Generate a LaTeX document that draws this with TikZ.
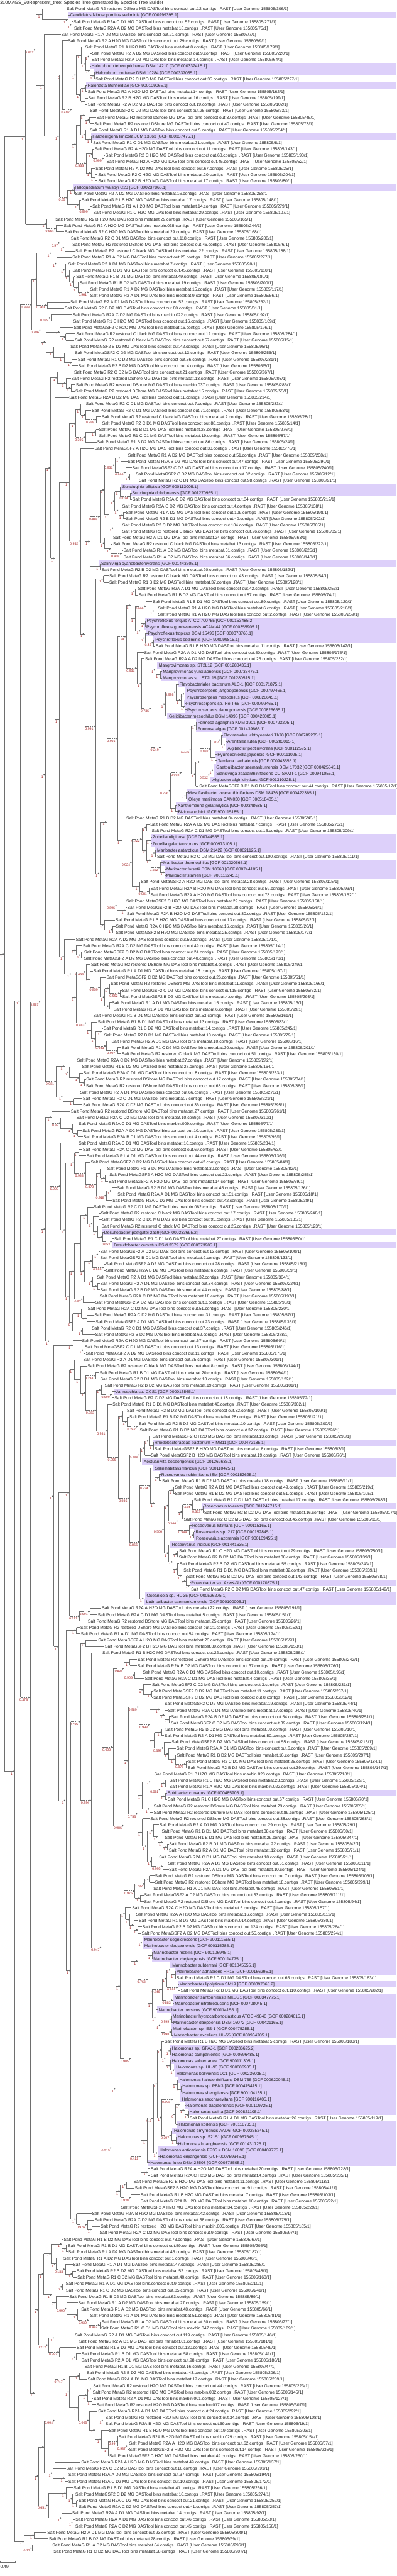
\documentclass[tikz,border=0pt]{standalone}
\usepackage{fontspec}
\setmainfont{Liberation Sans}

\definecolor{branchgray}{HTML}{6E6E6E}
\definecolor{dotgray}{HTML}{5A5A5A}
\definecolor{supportred}{HTML}{A01818}
\definecolor{reflilac}{HTML}{DDD0FA}
\definecolor{labelblack}{HTML}{1E1E1E}

\tikzset{
  branch/.style={draw=branchgray,line width=1.3pt},
  weakpart/.style={draw=branchgray,line width=1.3pt,dash pattern=on 2pt off 3.5pt},
  splitdot/.style={circle,fill=dotgray,inner sep=0pt,minimum size=5pt},
  nosplitdot/.style={inner sep=0pt,minimum size=0pt},
  support/.style={anchor=north east,inner sep=0pt,text=supportred,font=\fontsize{10}{10}\selectfont},
  tiplabel/.style={anchor=west,inner sep=0pt,text height=10.5pt,text depth=0pt,text=labelblack,font=\fontsize{12.85}{13}\selectfont},
  refband/.style={fill=reflilac}
}

\newcount\rowno
\newcount\cladeno
\def\firstrow{26.6}
\def\rowgap{19.26}
\def\colname{col0}
\def\cx{0}
\def\supone{1}
\def\supzero{0}
\let\topkid\relax

\newcommand\kiddone[2]{\ifx\topkid\relax\edef\topkid{#1}\edef\topy{#2}\fi\edef\botkid{#1}\edef\boty{#2}}

\newcommand\placetip[2]{%
  \global\advance\rowno by 1
  \pgfmathsetmacro\ty{\firstrow+\rowgap*(\the\rowno-1)}
  \node[tiplabel] (t\the\rowno) at (#1,\ty) {#2};
  \draw[branch,shorten >=1.5pt] (\colname |- t\the\rowno.west) -- (t\the\rowno.west);
  \kiddone{t\the\rowno.west}{\ty}}
\newcommand\mtip[4]{\placetip{#1}{Salt Pond MetaG #2 MG DASTool bins #3.contigs\ \ .RAST [User Genome 155805/#4/1]}}
\newcommand\ftip[4]{\placetip{#1}{Salt Pond MetaGSF2 #2 MG DASTool bins #3.contigs\ \ .RAST [User Genome 155805/#4/1]}}
\newcommand\rtip[2]{%
  \pgfmathsetmacro\by{\firstrow+\rowgap*\the\rowno}
  \fill[refband] (#1-7,\by-9.63) rectangle (1568,\by+9.63);
  \placetip{#1}{#2}}

\newcommand\cl[2]{\begingroup
  \global\advance\cladeno by 1
  \edef\thisid{\the\cladeno}
  \let\upx\cx
  \let\upcol\colname
  \def\cx{#1}
  \def\supp{#2}
  \edef\colname{col\thisid}
  \let\topkid\relax
  \coordinate (\colname) at (#1,0);}

\newcommand\ce{%
  \pgfmathsetmacro\midy{(\topy+\boty)/2}
  \pgfmathsetmacro\dotx{\cx-5.5}
  \coordinate (c\thisid) at (\cx,\midy);
  \draw[branch] (c\thisid |- \topkid) -- (c\thisid |- \botkid);
  \ifx\supp\supzero
    \node[nosplitdot] (d\thisid) at (\dotx,\midy) {};
  \else
    \node[splitdot] (d\thisid) at (\dotx,\midy) {};
  \fi
  \draw[branch] (d\thisid.center) -- (c\thisid);
  \ifx\supp\supone
    \draw[branch] (\upcol |- d\thisid.center) -- (d\thisid.center);
  \else\ifx\supp\supzero
    \draw[branch] (\upcol |- d\thisid.center) -- (d\thisid.center);
  \else
    \pgfmathsetmacro\cutx{max(\upx,\dotx-23)}
    \coordinate (h\thisid) at (\cutx,\midy);
    \draw[branch] (\upcol |- h\thisid) -- (h\thisid);
    \draw[weakpart] (h\thisid) -- (d\thisid.center);
  \fi\fi
  \node[support] (s\thisid) at ([xshift=-2.5pt,yshift=-3.9pt]d\thisid.center) {\supp};
  \xdef\retkid{d\thisid.center}\xdef\rety{\midy}\endgroup
  \kiddone{\retkid}{\rety}}

\begin{document}
\begin{tikzpicture}[x=0.76531pt,y=-1pt]
\useasboundingbox (0,0) rectangle (1568,7786);
\coordinate (col0) at (0,0);
\node[anchor=west,inner sep=0pt,text=labelblack,font=\fontsize{14}{14}\selectfont] (treetitle) at (0,8) {310MAGS\_90Represent\_tree: Species Tree generated by Species Tree Builder};

\cl{17}{1}
 \cl{101}{1}
  \cl{142}{0.817}
   \cl{167}{1}
    \mtip{264}{R2 restored DShore}{concoct out.12}{306}
    \cl{268}{1}
     \rtip{277}{Candidatus Nitrosopumilus sediminis [GCF 000299395.1]}
     \cl{285}{1}\mtip{291}{R2A C D1}{concoct out.52}{271}\mtip{293}{R2A A D2}{metabat.16}{75}\ce
    \ce
   \ce
   \cl{175}{1}
    \mtip{242}{R1 A D2}{concoct out.21}{7}
    \cl{235}{1}
     \cl{246}{0}
      \mtip{269}{R2 A H2O}{concoct out.29}{9}
      \cl{284}{0.492}
       \cl{302}{1}
        \cl{322}{1}
         \mtip{337}{R1 A H2O}{metabat.8}{179}
         \cl{338}{1}
          \cl{355}{1}\mtip{364}{R2 A D2}{concoct out.9}{220}\mtip{362}{R2 A D2}{metabat.14}{64}\ce
          \cl{356}{1}
           \rtip{362}{Halorubrum tebenquichense DSM 14210 [GCF 000337415.1]}
           \cl{373}{1}\rtip{378}{Halorubrum coriense DSM 10284 [GCF 000337035.1]}\mtip{378}{R2 C H2O}{concoct out.35}{227}\ce
          \ce
         \ce
        \ce
        \cl{320}{1}
         \cl{338}{1}\rtip{347}{Halohasta litchfieldiae [GCF 900109065.1]}\mtip{347}{R2 A H2O}{metabat.14}{162}\ce
         \cl{337}{1}\mtip{349}{R2 B H2O}{metabat.16}{199}\mtip{348}{R2 A D2}{concoct out.19}{102}\ce
        \ce
       \ce
       \cl{302}{1}
        \cl{318}{1}
         \cl{336}{1}
          \ftip{356}{C D2}{concoct out.25}{23}
          \cl{354}{1}\mtip{381}{R2 restored DShore}{concoct out.37}{45}\mtip{373}{R2 restored DShore}{concoct out.40}{73}\ce
         \ce
         \cl{338}{1}
          \mtip{356}{R1 A D1}{\unskip.concoct out.5}{254}
          \cl{361}{1}\rtip{366}{Haloterrigena limicola JCM 13563 [GCF 000337475.1]}\mtip{368}{R1 C D1}{metabat.31}{8}\ce
         \ce
        \ce
        \cl{340}{0.565}
         \cl{367}{1}
          \mtip{374}{R2 A H2O}{concoct out.11}{143}
          \cl{411}{0.999}\mtip{417}{R2 C H2O}{concoct out.60}{190}\mtip{421}{R2 A H2O}{concoct out.45}{52}\ce
         \ce
         \cl{361}{1}
          \mtip{378}{R2 A D2}{concoct out.67}{25}
          \cl{377}{1}\mtip{388}{R2 C H2O}{metabat.20}{204}\mtip{388}{R2 B H2O}{metabat.17}{80}\ce
         \ce
        \ce
       \ce
      \ce
     \ce
     \cl{267}{0.65}
      \cl{293}{1}\rtip{296}{Haloquadratum walsbyi C23 [GCF 000237865.1]}\mtip{297}{R2 A D2}{metabat.16}{258}\ce
      \cl{313}{1}
       \mtip{323}{R1 B H2O}{metabat.17}{148}
       \cl{356}{0.999}\mtip{366}{R1 A H2O}{metabat.14}{279}\mtip{369}{R1 C H2O}{metabat.29}{107}\ce
      \ce
     \ce
    \ce
   \ce
  \ce
  \cl{184}{1}
   \mtip{219}{R2 B H2O}{metabat.29}{165}
   \cl{222}{0.554}\mtip{252}{R2 A H2O}{maxbin.035}{244}\mtip{256}{R2 C H2O}{metabat.29}{168}\ce
  \ce
 \ce
 \cl{58}{1}
  \cl{81}{1}
   \cl{125}{0.999}
    \cl{145}{1}
     \cl{204}{1}
      \cl{238}{0.97}
       \mtip{281}{R2 C D1}{concoct out.118}{208}
       \cl{256}{1}\mtip{286}{R2 restored DShore}{concoct out.46}{6}\mtip{298}{R2 restored C black}{metabat.22}{188}\ce
      \ce
      \cl{225}{1}
       \mtip{286}{R1 A D2}{concoct out.25}{277}
       \cl{258}{1}
        \mtip{270}{R2 A D1}{metabat.7}{90}
        \cl{275}{1}
         \mtip{287}{R1 C D1}{concoct out.45}{110}
         \cl{292}{1}
          \mtip{301}{R1 B D1}{metabat.49}{180}
          \cl{308}{1}
           \mtip{314}{R1 B D2}{metabat.19}{200}
           \cl{352}{0.961}\mtip{357}{R1 A D2}{metabat.15}{117}\mtip{357}{R2 A D1}{metabat.9}{56}\ce
          \ce
         \ce
        \ce
       \ce
      \ce
     \ce
     \cl{187}{0.963}\mtip{278}{R2 A D1}{concoct out.52}{262}\mtip{256}{R2 B D2}{concoct out.80}{31}\ce
    \ce
    \cl{163}{0.786}
     \cl{201}{0.189}\mtip{287}{R2A C D2}{maxbin.022}{192}\mtip{290}{R1 C H2O}{concoct out.16}{169}\ce
     \cl{181}{1}
      \cl{237}{1}
       \ftip{292}{C H2O}{metabat.16}{196}
       \cl{260}{1}\mtip{301}{R2 restored C black}{concoct out.12}{284}\mtip{296}{R2 restored C black}{concoct out.57}{15}\ce
      \ce
      \cl{213}{1}
       \ftip{279}{B D2}{concoct out.42}{95}
       \cl{253}{1}
        \ftip{296}{C D2}{concoct out.13}{256}
        \cl{285}{1}\mtip{308}{R1 C D2}{concoct out.36}{281}\mtip{310}{R2 B D2}{concoct out.4}{5}\ce
       \ce
      \ce
     \ce
    \ce
   \ce
   \cl{119}{0.378}
    \cl{162}{0.987}
     \cl{180}{1}
      \cl{200}{1}
       \cl{227}{1}
        \mtip{293}{R2 C D2}{concoct out.21}{267}
        \cl{261}{1}
         \mtip{282}{R2 restored DShore}{metabat.13}{203}
         \cl{281}{1}\mtip{300}{R2 restored DShore}{maxbin.037}{286}\mtip{298}{R2 restored DShore}{metabat.15}{55}\ce
        \ce
       \ce
       \cl{218}{1}
        \mtip{274}{R2A B D2}{concoct out.11}{214}
        \cl{235}{1}
         \cl{275}{1}
          \cl{300}{1}
           \cl{320}{1}
            \mtip{340}{R2 C D1}{concoct out.7}{283}
            \cl{339}{1}
             \mtip{363}{R2 C D1}{concoct out.71}{53}
             \cl{382}{0.988}\mtip{403}{R2 restored C black}{metabat.2}{28}\mtip{404}{R2 C D1}{concoct out.88}{14}\ce
            \ce
           \ce
           \cl{338}{0.395}
            \cl{379}{1}\mtip{392}{R1 B D1}{metabat.28}{276}\mtip{392}{R1 C D1}{metabat.19}{87}\ce
            \mtip{384}{R1 B D2}{concoct out.86}{24}
           \ce
          \ce
          \cl{318}{0.952}
           \ftip{374}{A H2O}{concoct out.33}{78}
           \cl{335}{1}
            \cl{355}{1}
             \cl{395}{0.868}
              \cl{413}{1}
               \cl{455}{0.931}
                \cl{477}{1}\mtip{506}{R1 A D2}{concoct out.51}{238}\mtip{505}{R2A B D2}{concoct out.47}{290}\ce
                \cl{497}{0.866}
                 \ftip{523}{C D2}{concoct out.17}{240}
                 \cl{513}{1}\ftip{537}{C D2}{concoct out.32}{12}\mtip{549}{R2 C D1}{concoct out.98}{91}\ce
                \ce
               \ce
               \cl{430}{1}
                \cl{454}{1}
                 \cl{475}{1}
                  \rtip{484}{Sunxiuqinia elliptica [GCF 900113005.1]}
                  \cl{515}{0.034}\rtip{523}{Sunxiuqinia dokdonensis [GCF 001270965.1]}\mtip{524}{R2A C D2}{concoct out.34}{212}\ce
                 \ce
                 \cl{470}{1}
                  \mtip{484}{R2A C D2}{concoct out.4}{138}
                  \cl{488}{1}\mtip{498}{R1 A D2}{concoct out.109}{198}\mtip{498}{R2 B D1}{concoct out.40}{202}\ce
                 \ce
                \ce
                \cl{450}{1}\mtip{484}{R2 C D2}{concoct out.104}{305}\mtip{484}{R2 restored C black}{concoct out.26}{85}\ce
               \ce
              \ce
              \cl{414}{1}
               \mtip{447}{R2 A D1}{metabat.24}{263}
               \cl{439}{1}
                \mtip{447}{R2 restored C black}{metabat.13}{222}
                \cl{482}{0.908}\mtip{488}{R1 A D2}{metabat.31}{225}\mtip{488}{R1 A D2}{metabat.36}{140}\ce
               \ce
              \ce
             \ce
             \cl{397}{1}\rtip{400}{Salinivirga cyanobacteriivorans [GCF 001443605.1]}\mtip{401}{R2 B D2}{metabat.20}{182}\ce
            \ce
            \cl{378}{0.991}
             \cl{409}{1}\mtip{432}{R2 restored C black}{concoct out.43}{54}\mtip{432}{R1 B D2}{metabat.37}{128}\ce
             \cl{395}{1}
              \cl{423}{1}
               \cl{465}{0.901}
                \cl{500}{0.94}
                 \cl{517}{1}
                  \cl{535}{1}\mtip{546}{R2A A D1}{concoct out.42}{253}\mtip{548}{R1 B D2}{concoct out.87}{74}\ce
                  \cl{535}{1}
                   \cl{577}{0.999}
                    \mtip{604}{R1 B D1}{concoct out.89}{120}
                    \cl{611}{1}\mtip{625}{R1 A H2O}{metabat.6}{216}\mtip{625}{R1 A H2O}{concoct out.2}{259}\ce
                   \ce
                   \cl{557}{1}
                    \cl{575}{1}\rtip{580}{Psychroflexus torquis ATCC 700755 [GCF 000153485.2]}\rtip{579}{Psychroflexus gondwanensis ACAM 44 [GCF 000355905.1]}\ce
                    \cl{575}{1}
                     \rtip{585}{Psychroflexus tropicus DSM 15496 [GCF 000378765.1]}
                     \cl{607}{0.46}\rtip{614}{Psychroflexus sediminis [GCF 900099815.1]}\mtip{616}{R1 B H2O}{metabat.11}{142}\ce
                    \ce
                   \ce
                  \ce
                 \ce
                 \cl{542}{0.951}
                  \mtip{570}{R2A A D1}{concoct out.50}{175}
                  \cl{560}{1}
                   \mtip{574}{R2A A D2}{concoct out.25}{232}
                   \cl{598}{0.736}
                    \cl{616}{1}
                     \rtip{628}{Mangrovimonas sp. ST2L12 [GCF 001280435.1]}
                     \cl{633}{1}\rtip{644}{Mangrovimonas yunxiaonensis [GCF 000733475.1]}\rtip{644}{Mangrovimonas sp. ST2L15 [GCF 001280515.1]}\ce
                    \ce
                    \cl{637}{0.249}
                     \cl{654}{1}
                      \cl{696}{0.998}
                       \rtip{710}{Flavobacteriales bacterium ALC-1 [GCF 000171875.1]}
                       \cl{715}{1}
                        \cl{731}{1}\rtip{739}{Psychroserpens jangbogonensis [GCF 000797465.1]}\rtip{738}{Psychroserpens mesophilus [GCF 000826645.1]}\ce
                        \cl{732}{1}\rtip{735}{Psychroserpens sp. Hel I 66 [GCF 000799465.1]}\rtip{740}{Psychroserpens damuponensis [GCF 000826655.1]}\ce
                       \ce
                      \ce
                      \rtip{668}{Gelidibacter mesophilus DSM 14095 [GCF 000423005.1]}
                     \ce
                     \cl{675}{0.736}
                      \cl{718}{0.992}
                       \cl{757}{0.445}
                        \cl{776}{1}\rtip{781}{Formosa agariphila KMM 3901 [GCF 000723205.1]}\rtip{782}{Formosa algae [GCF 001439665.1]}\ce
                        \cl{774}{1}
                         \cl{791}{1}
                          \cl{833}{0.987}
                           \cl{875}{0.807}
                            \rtip{884}{Flaviramulus ichthyoenteri Th78 [GCF 000789235.1]}
                            \cl{892}{1}\rtip{899}{Arenitalea lutea [GCF 000283015.1]}\rtip{900}{Algibacter pectinivorans [GCF 900112595.1]}\ce
                           \ce
                           \cl{851}{1}\rtip{860}{Hyunsoonleella jejuensis [GCF 900111025.1]}\rtip{862}{Tamlana nanhaiensis [GCF 000943555.1]}\ce
                          \ce
                          \cl{831}{0.532}
                           \cl{845}{1}\rtip{855}{Gaetbulibacter saemankumensis DSM 17032 [GCF 000425645.1]}\rtip{855}{Siansivirga zeaxanthinifaciens CC-SAMT-1 [GCF 000941055.1]}\ce
                           \rtip{840}{Algibacter alginicilyticus [GCF 001310225.1]}
                          \ce
                         \ce
                         \ftip{788}{B D1}{concoct out.44}{17}
                        \ce
                       \ce
                       \cl{737}{1}\rtip{744}{Mesoflavibacter zeaxanthinifaciens DSM 18436 [GCF 000422365.1]}\rtip{745}{Olleya marilimosa CAM030 [GCF 000518485.1]}\ce
                      \ce
                      \cl{693}{1}\rtip{703}{Xanthomarina gelatinilytica [GCF 000348685.1]}\rtip{704}{Bizionia echini [GCF 900115185.1]}\ce
                     \ce
                    \ce
                   \ce
                  \ce
                 \ce
                \ce
                \cl{482}{1}
                 \mtip{499}{R1 B D2}{metabat.34}{43}
                 \cl{523}{0.924}
                  \cl{562}{0.722}
                   \cl{580}{1}\mtip{594}{R2A A D2}{metabat.7}{273}\mtip{600}{R2A C D1}{concoct out.15}{309}\ce
                   \cl{579}{1}
                    \cl{597}{1}\rtip{604}{Zobellia uliginosa [GCF 000744555.1]}\rtip{603}{Zobellia galactanivorans [GCF 000973105.1]}\ce
                    \cl{596}{1}
                     \cl{614}{1}\rtip{621}{Maribacter antarcticus DSM 21422 [GCF 000621125.1]}\mtip{621}{R2 C D2}{concoct out.100}{111}\ce
                     \cl{634}{0.332}
                      \rtip{646}{Maribacter thermophilus [GCF 001020565.1]}
                      \cl{652}{1}\rtip{658}{Maribacter forsetii DSM 18668 [GCF 000744105.1]}\rtip{657}{Maribacter stanieri [GCF 900112245.1]}\ce
                     \ce
                    \ce
                   \ce
                  \ce
                  \cl{552}{1}
                   \ftip{557}{A H2O}{metabat.28}{115}
                   \cl{590}{0.081}\mtip{595}{R2A B H2O}{concoct out.59}{93}\mtip{595}{R2A A H2O}{concoct out.78}{152}\ce
                  \ce
                 \ce
                \ce
               \ce
               \cl{464}{0.896}
                \ftip{499}{C H2O}{metabat.29}{158}
                \cl{497}{1}\ftip{503}{B H2O}{metabat.28}{36}\mtip{502}{R2A B H2O}{concoct out.80}{132}\ce
               \ce
              \ce
              \cl{412}{1}
               \mtip{457}{R1 B H2O}{concoct out.13}{32}
               \cl{446}{1}\mtip{458}{R2A C H2O}{metabat.16}{20}\ftip{458}{B H2O}{metabat.25}{177}\ce
              \ce
             \ce
            \ce
           \ce
          \ce
         \ce
         \cl{255}{1}
          \mtip{300}{R2A A D2}{concoct out.59}{171}
          \cl{283}{1}
           \cl{301}{1}
            \mtip{327}{R2A C D2}{concoct out.49}{114}
            \cl{321}{1}\ftip{333}{C D2}{concoct out.24}{193}\ftip{332}{A D2}{concoct out.40}{178}\ce
           \ce
           \cl{301}{1}
            \cl{340}{0.653}
             \mtip{360}{R2 restored DShore}{metabat.8}{249}
             \cl{356}{1}
              \mtip{370}{R1 A D1}{\unskip.metabat.18}{167}
              \cl{396}{0.859}
               \ftip{421}{C D2}{concoct out.26}{51}
               \cl{414}{1}
                \cl{432}{1}
                 \mtip{438}{R2 restored DShore}{metabat.11}{166}
                 \cl{475}{0.992}\ftip{483}{C D2}{concoct out.15}{62}\ftip{484}{B D2}{metabat.4}{293}\ce
                \ce
                \cl{432}{1}\mtip{443}{R1 A D1}{\unskip.metabat.15}{13}\mtip{449}{R1 A D1}{\unskip.metabat.6}{99}\ce
               \ce
              \ce
             \ce
            \ce
            \cl{343}{0.963}
             \mtip{369}{R1 B D1}{concoct out.53}{161}
             \cl{360}{1}
              \mtip{386}{R1 B D1}{metabat.13}{83}
              \cl{378}{1}
               \cl{403}{1}\mtip{410}{R1 B D2}{metabat.14}{245}\mtip{412}{R2 B D1}{metabat.10}{79}\ce
               \cl{420}{0.983}
                \mtip{441}{R2 A D1}{metabat.10}{16}
                \cl{465}{0.997}\mtip{482}{R1 C D2}{metabat.30}{201}\mtip{481}{R2 restored C black}{concoct out.51}{130}\ce
               \ce
              \ce
             \ce
            \ce
           \ce
          \ce
         \ce
        \ce
       \ce
      \ce
      \cl{223}{0.981}
       \cl{256}{1}
        \mtip{305}{R2A C D2}{metabat.27}{272}
        \cl{274}{1}
         \mtip{324}{R1 B D2}{metabat.27}{164}
         \cl{314}{1}
          \mtip{330}{R2A C D1}{concoct out.8}{233}
          \cl{334}{1}\mtip{341}{R2 restored DShore}{concoct out.17}{34}\mtip{340}{R2 restored DShore}{concoct out.68}{86}\ce
         \ce
        \ce
       \ce
       \cl{250}{1}
        \mtip{317}{R2 A D1}{concoct out.66}{270}
        \cl{292}{1}\mtip{328}{R2 C D1}{metabat.7}{221}\mtip{328}{R2A C D2}{concoct out.36}{295}\ce
       \ce
      \ce
     \ce
     \cl{180}{1}
      \cl{204}{1}
       \mtip{281}{R2 restored DShore}{metabat.27}{261}
       \cl{240}{0.89}
        \mtip{302}{R2A C D2}{metabat.10}{310}
        \cl{287}{1}
         \mtip{311}{R2A C D1}{maxbin.009}{77}
         \cl{307}{1}\mtip{326}{R2A A D2}{concoct out.10}{289}\mtip{330}{R2A B D1}{concoct out.4}{96}\ce
        \ce
       \ce
      \ce
      \cl{197}{1}
       \cl{240}{0.999}
        \mtip{311}{R2A C D1}{metabat.16}{234}
        \cl{259}{1}
         \cl{295}{1}
          \cl{311}{1}\mtip{328}{R2A C D2}{concoct out.69}{63}\mtip{342}{R1 A D1}{\unskip.concoct out.44}{136}\ce
          \cl{339}{0.988}
           \ftip{359}{C D2}{concoct out.42}{84}
           \cl{380}{0.879}
            \cl{397}{1}
             \mtip{424}{R1 B D2}{metabat.30}{82}
             \cl{416}{1}\ftip{433}{A H2O}{concoct out.23}{255}\ftip{429}{A H2O}{metabat.14}{39}\ce
            \ce
            \cl{421}{0.918}
             \cl{442}{1}\mtip{463}{R2 B D2}{metabat.45}{126}\mtip{465}{R2A A D1}{concoct out.51}{18}\ce
             \mtip{445}{R2A C D2}{concoct out.42}{38}
            \ce
           \ce
          \ce
         \ce
         \cl{275}{1}
          \cl{295}{1}
           \cl{318}{1}
            \cl{345}{1}
             \mtip{371}{R2 C D1}{maxbin.062}{170}
             \cl{368}{1}
              \cl{390}{1}\mtip{399}{R2 restored C black}{concoct out.17}{248}\mtip{404}{R2 C D1}{concoct out.95}{131}\ce
              \cl{385}{1}
               \mtip{401}{R2 restored C black}{concoct out.25}{123}
               \cl{405}{1}
                \rtip{412}{Desulfobacter postgatei 2ac9 [GCF 000233695.2]}
                \cl{444}{0.653}\mtip{452}{R1 C D1}{metabat.27}{50}\rtip{450}{Desulfobacter curvatus DSM 3379 [GCF 000373985.1]}\ce
               \ce
              \ce
             \ce
            \ce
            \cl{334}{1}
             \cl{365}{1}
              \cl{390}{1}\ftip{396}{A D2}{concoct out.13}{100}\ftip{396}{B D1}{metabat.9}{133}\ce
              \cl{410}{0.999}\ftip{418}{A D2}{concoct out.28}{215}\mtip{419}{R2A B D2}{metabat.6}{59}\ce
             \ce
             \cl{367}{1}
              \mtip{384}{R2 A D1}{metabat.32}{304}
              \cl{385}{1}\mtip{396}{R2 A D1}{concoct out.84}{224}\mtip{396}{R2 B D2}{metabat.44}{88}\ce
             \ce
            \ce
           \ce
           \cl{329}{0.97}\mtip{394}{R2A C D2}{metabat.18}{197}\ftip{377}{A D2}{concoct out.8}{98}\ce
          \ce
          \cl{287}{0}
           \cl{322}{1}
            \mtip{347}{R2A C D2}{concoct out.51}{230}
            \cl{344}{1}\mtip{373}{R2A C D2}{concoct out.31}{57}\ftip{378}{A D1}{concoct out.23}{135}\ce
           \ce
           \cl{327}{1}\mtip{363}{R2 C D1}{concoct out.37}{246}\mtip{377}{R2 B D2}{metabat.62}{278}\ce
          \ce
         \ce
        \ce
       \ce
       \cl{213}{1}
        \cl{288}{1}
         \mtip{324}{R2A C H2O}{concoct out.67}{60}
         \cl{331}{1}\ftip{335}{C D1}{concoct out.13}{116}\ftip{339}{A D2}{concoct out.11}{173}\ce
        \ce
        \cl{232}{1}
         \cl{275}{1}
          \cl{293}{1}
           \mtip{329}{R2 A D1}{concoct out.35}{301}
           \cl{318}{1}
            \mtip{346}{R2 restored C black}{metabat.8}{144}
            \cl{339}{1}
             \cl{378}{0.234}\mtip{394}{R1 B D1}{metabat.20}{4}\mtip{396}{R2 B D1}{metabat.13}{122}\ce
             \cl{382}{0.983}
              \cl{400}{1}
               \mtip{414}{R2 B D2}{metabat.19}{101}
               \cl{443}{0.999}\rtip{458}{Jannaschia sp. CCS1 [GCF 000013565.1]}\mtip{453}{R2 C D2}{concoct out.18}{72}\ce
              \ce
              \cl{425}{0.981}
               \mtip{445}{R1 B D1}{metabat.40}{302}
               \cl{468}{0.995}
                \cl{486}{1}
                 \mtip{502}{R2 B D2}{concoct out.32}{109}
                 \cl{502}{1}
                  \mtip{512}{R1 B D2}{metabat.28}{121}
                  \cl{545}{0.242}\mtip{549}{R2 B D2}{metabat.10}{300}\mtip{553}{R1 B D2}{concoct out.37}{226}\ce
                 \ce
                \ce
                \cl{512}{0.986}
                 \cl{555}{0.998}
                  \cl{573}{1}
                   \cl{589}{1}
                    \ftip{603}{C H2O}{metabat.13}{298}
                    \cl{607}{1}\rtip{611}{Rhodobacteraceae bacterium HIMB11 [GCF 000472185.1]}\ftip{611}{B H2O}{metabat.8}{3}\ce
                   \ce
                   \ftip{597}{B H2O}{metabat.19}{76}
                  \ce
                  \rtip{568}{Aestuariivita boseongensis [GCF 001262635.1]}
                 \ce
                 \cl{553}{0.866}
                  \cl{595}{0.934}
                   \rtip{612}{Salinihabitans flavidus [GCF 900110425.1]}
                   \cl{612}{1}
                    \cl{629}{1}\rtip{638}{Roseovarius nubinhibens ISM [GCF 000152625.1]}\mtip{641}{R1 B D2}{metabat.18}{11}\ce
                    \cl{650}{0.506}
                     \cl{667}{1}
                      \cl{686}{1}\mtip{692}{R2 A D1}{concoct out.49}{219}\mtip{692}{R1 B D2}{concoct out.51}{105}\ce
                      \cl{705}{0.346}
                       \cl{722}{1}
                        \cl{761}{0.664}
                         \mtip{766}{R2 C D1}{metabat.17}{288}
                         \cl{802}{0.663}\rtip{804}{Roseovarius tolerans [GCF 001247715.1]}\mtip{807}{R2 B D2}{metabat.16}{217}\ce
                        \ce
                        \mtip{727}{R2 C D2}{concoct out.45}{33}
                       \ce
                       \cl{748}{0.999}
                        \rtip{760}{Roseovarius lutimaris [GCF 900115165.1]}
                        \cl{767}{1}\rtip{774}{Roseovarius sp. 217 [GCF 000152845.1]}\rtip{775}{Roseovarius azorensis [GCF 900109455.1]}\ce
                       \ce
                      \ce
                     \ce
                     \cl{667}{1}
                      \rtip{680}{Roseovarius indicus [GCF 001441635.1]}
                      \cl{685}{1}
                       \cl{702}{1}\mtip{708}{R1 C H2O}{concoct out.79}{250}\mtip{707}{R2 B D2}{metabat.38}{139}\ce
                       \cl{702}{1}
                        \mtip{710}{R2 B D2}{metabat.55}{243}
                        \cl{719}{1}
                         \mtip{726}{R1 B D1}{metabat.32}{239}
                         \cl{736}{1}
                          \mtip{740}{R2 B D2}{concoct out.143}{68}
                          \cl{751}{1}\rtip{756}{Roseobacter sp. AzwK-3b [GCF 000170875.1]}\mtip{756}{R2 C D2}{concoct out.47}{149}\ce
                         \ce
                        \ce
                       \ce
                      \ce
                     \ce
                    \ce
                   \ce
                  \ce
                  \cl{570}{1}\rtip{580}{Oceanicola sp. HL-35 [GCF 000526275.1]}\rtip{578}{Lutimaribacter saemankumensis [GCF 900100005.1]}\ce
                 \ce
                \ce
               \ce
              \ce
             \ce
            \ce
           \ce
          \ce
          \cl{315}{0.312}
           \cl{356}{0.991}\mtip{403}{R2A A H2O}{metabat.22}{191}\mtip{386}{R2A C D1}{metabat.5}{151}\ce
           \mtip{348}{R2 restored DShore}{metabat.25}{26}
          \ce
         \ce
         \cl{261}{1}
          \cl{302}{1}\mtip{318}{R2 restored DShore}{concoct out.21}{150}\mtip{319}{R1 A D1}{\unskip.concoct out.54}{174}\ce
          \cl{280}{1}
           \cl{318}{0.705}
            \cl{338}{1}\ftip{388}{A H2O}{metabat.23}{155}\ftip{415}{B H2O}{metabat.39}{153}\ce
            \cl{362}{0.994}
             \mtip{405}{R1 B H2O}{concoct out.22}{265}
             \cl{403}{0.947}
              \cl{447}{0.999}
               \cl{491}{0.968}
                \cl{513}{1}\mtip{544}{R2 restored DShore}{concoct out.20}{242}\mtip{544}{R2A B D2}{concoct out.37}{176}\ce
                \cl{533}{0.905}\mtip{565}{R2A C D1}{concoct out.10}{195}\mtip{573}{R2A C D1}{metabat.4}{35}\ce
               \ce
               \cl{491}{0.986}
                \cl{508}{1}
                 \cl{550}{0.989}
                  \cl{567}{1}
                   \ftip{601}{C D2}{concoct out.3}{231}
                   \cl{600}{1}\ftip{607}{C D2}{metabat.11}{237}\ftip{607}{C D2}{concoct out.8}{312}\ce
                  \ce
                  \cl{593}{0.993}
                   \cl{632}{1}
                    \ftip{651}{C D2}{metabat.19}{44}
                    \cl{651}{1}
                     \mtip{665}{R2A C D1}{metabat.17}{40}
                     \cl{670}{1}\mtip{677}{R2A B D2}{concoct out.54}{251}\ftip{676}{C D2}{concoct out.39}{124}\ce
                    \ce
                   \ce
                   \cl{610}{1}
                    \cl{639}{1}\mtip{654}{R2 B D2}{metabat.50}{10}\mtip{651}{R2 A D1}{metabat.50}{287}\ce
                    \cl{648}{0.399}
                     \ftip{679}{B D2}{concoct out.55}{213}
                     \cl{667}{1}
                      \mtip{698}{R2A A D1}{concoct out.6}{269}
                      \cl{693}{1}
                       \mtip{700}{R1 B D2}{metabat.16}{297}
                       \cl{735}{0.975}\mtip{745}{R2 C D1}{metabat.25}{184}\mtip{743}{R2 B D2}{concoct out.39}{147}\ce
                      \ce
                     \ce
                    \ce
                   \ce
                  \ce
                 \ce
                 \cl{546}{0.753}
                  \cl{563}{1}
                   \cl{597}{1}
                    \mtip{610}{R1 B H2O}{maxbin.028}{218}
                    \cl{636}{0.081}
                     \cl{653}{1}\mtip{670}{R1 C H2O}{metabat.23}{129}\mtip{670}{R1 A H2O}{maxbin.022}{104}\ce
                     \cl{653}{1}\rtip{663}{Spiribacter curvatus [GCF 000485905.1]}\mtip{663}{R1 C H2O}{concoct out.67}{70}\ce
                    \ce
                   \ce
                   \cl{592}{1}\mtip{608}{R2 restored DShore}{metabat.23}{65}\mtip{608}{R2 restored DShore}{concoct out.89}{125}\ce
                  \ce
                  \cl{563}{1}
                   \mtip{594}{R2 restored DShore}{concoct out.38}{268}
                   \cl{581}{1}
                    \cl{606}{1}
                     \mtip{631}{R2 A D1}{concoct out.29}{29}
                     \cl{624}{1}
                      \mtip{640}{R1 B D1}{metabat.38}{30}
                      \cl{645}{1}
                       \mtip{652}{R1 B D1}{metabat.29}{247}
                       \cl{662}{1}\mtip{669}{R2 B D1}{metabat.22}{42}\mtip{668}{R2 A D1}{metabat.12}{71}\ce
                      \ce
                     \ce
                    \ce
                    \cl{600}{1}
                     \mtip{629}{R2A C D1}{metabat.18}{21}
                     \cl{644}{0.995}\mtip{665}{R2A A D2}{concoct out.51}{311}\mtip{669}{R2A A D1}{metabat.10}{134}\ce
                    \ce
                   \ce
                  \ce
                 \ce
                \ce
                \cl{533}{0.975}
                 \cl{573}{0.782}
                  \cl{590}{1}\mtip{612}{R2 restored DShore}{concoct out.7}{106}\mtip{613}{R2 restored DShore}{metabat.18}{299}\ce
                  \mtip{607}{R1 A D1}{\unskip.metabat.45}{61}
                 \ce
                 \cl{555}{1}\ftip{570}{A D2}{concoct out.33}{211}\mtip{570}{R2 restored DShore}{concoct out.2}{94}\ce
                \ce
               \ce
              \ce
              \cl{443}{0.515}
               \cl{459}{1}
                \cl{476}{1}
                 \cl{496}{1}
                  \mtip{522}{R2A C H2O}{metabat.5}{157}
                  \cl{512}{1}
                   \mtip{538}{R2A A H2O}{metabat.16}{112}
                   \cl{529}{1}
                    \mtip{549}{R1 B D2}{maxbin.014}{280}
                    \cl{546}{1}\mtip{563}{R2 B D2}{concoct out.124}{264}\ftip{561}{A D2}{concoct out.55}{294}\ce
                   \ce
                  \ce
                 \ce
                 \cl{518}{0.905}
                  \cl{546}{1}
                   \cl{564}{1}\rtip{570}{Marinobacter segnicrescens [GCF 900111555.1]}\rtip{571}{Marinobacter daqiaonensis [GCF 900115285.1]}\ce
                   \cl{585}{0.768}
                    \cl{602}{1}\rtip{607}{Marinobacter mobilis [GCF 900106945.1]}\rtip{607}{Marinobacter zhejiangensis [GCF 900114775.1]}\ce
                    \cl{602}{1}
                     \cl{642}{0.846}
                      \cl{660}{1}
                       \cl{676}{1}
                        \rtip{681}{Marinobacter subterrani [GCF 001045555.1]}
                        \cl{693}{1}\rtip{697}{Marinobacter adhaerens HP15 [GCF 000166295.1]}\mtip{698}{R2 C D1}{concoct out.65}{163}\ce
                       \ce
                       \cl{703}{0.991}\rtip{709}{Marinobacter lipolyticus SM19 [GCF 000397065.2]}\mtip{715}{R2 B D1}{concoct out.110}{282}\ce
                      \ce
                      \cl{684}{0.883}\rtip{690}{Marinobacter santoriniensis NKSG1 [GCF 000347775.1]}\rtip{691}{Marinobacter nitratireducens [GCF 000708045.1]}\ce
                     \ce
                     \cl{618}{1}
                      \rtip{627}{Marinobacter persicus [GCF 900114155.1]}
                      \cl{636}{1}
                       \cl{678}{0.999}\rtip{683}{Marinobacter hydrocarbonoclasticus ATCC 49840 [GCF 000284615.1]}\rtip{685}{Marinobacter daepoensis DSM 16072 [GCF 000421165.1]}\ce
                       \cl{678}{0.998}\rtip{684}{Marinobacter sp. ES-1 [GCF 000475255.1]}\rtip{688}{Marinobacter excellens HL-55 [GCF 000934705.1]}\ce
                      \ce
                     \ce
                    \ce
                   \ce
                  \ce
                  \cl{556}{0.412}
                   \cl{583}{1}
                    \cl{607}{0.5}
                     \cl{623}{1}
                      \cl{640}{1}
                       \mtip{651}{R1 B H2O}{metabat.5}{183}
                       \cl{657}{1}
                        \cl{674}{1}\rtip{680}{Halomonas sp. GFAJ-1 [GCF 000236625.2]}\rtip{680}{Halomonas campaniensis [GCF 000696485.1]}\ce
                        \cl{674}{1}
                         \rtip{680}{Halomonas subterranea [GCF 900111305.1]}
                         \cl{691}{1}\rtip{696}{Halomonas sp. HL-93 [GCF 900086985.1]}\rtip{698}{Halomonas boliviensis LC1 [GCF 000236035.1]}\ce
                        \ce
                       \ce
                      \ce
                      \cl{640}{1}
                       \cl{683}{0.998}
                        \cl{701}{1}
                         \rtip{709}{Halomonas halodenitrificans DSM 735 [GCF 000620045.1]}
                         \cl{717}{1}\rtip{721}{Halomonas sp. PBN3 [GCF 000475415.1]}\rtip{721}{Halomonas shengliensis [GCF 900104135.1]}\ce
                        \ce
                        \cl{695}{0}
                         \cl{712}{1}
                          \rtip{719}{Halomonas saccharevitans [GCF 900116405.1]}
                          \cl{730}{1}
                           \rtip{736}{Halomonas daqiaonensis [GCF 900109725.1]}
                           \cl{746}{1}\rtip{749}{Halomonas salina [GCF 000821105.1]}\mtip{750}{R1 A D1}{\unskip.metabat.26}{119}\ce
                          \ce
                         \ce
                         \rtip{706}{Halomonas korlensis [GCF 900116705.1]}
                        \ce
                       \ce
                       \cl{678}{0.397}
                        \rtip{688}{Halomonas smyrnensis AAD6 [GCF 000265245.1]}
                        \cl{696}{1}\rtip{703}{Halomonas sp. S2151 [GCF 000967645.1]}\rtip{705}{Halomonas huangheensis [GCF 001431725.1]}\ce
                       \ce
                      \ce
                     \ce
                     \cl{624}{1}\rtip{631}{Halomonas anticariensis FP35 = DSM 16096 [GCF 000409775.1]}\rtip{633}{Halomonas xinjiangensis [GCF 000759345.1]}\ce
                    \ce
                    \rtip{594}{Halomonas lutea DSM 23508 [GCF 000378505.1]}
                   \ce
                   \cl{585}{1}\mtip{596}{R2A A H2O}{metabat.20}{228}\mtip{596}{R2A C H2O}{metabat.4}{235}\ce
                  \ce
                 \ce
                \ce
                \cl{476}{1}
                 \cl{499}{1}\ftip{528}{B H2O}{metabat.11}{118}\ftip{533}{B H2O}{concoct out.91}{41}\ce
                 \cl{518}{0.939}\mtip{556}{R1 B H2O}{metabat.7}{103}\mtip{556}{R2A B H2O}{metabat.10}{22}\ce
                \ce
               \ce
               \ftip{479}{A H2O}{metabat.34}{229}
              \ce
             \ce
            \ce
           \ce
           \cl{302}{1}
            \mtip{364}{R2A B H2O}{metabat.42}{113}
            \cl{345}{0.976}
             \mtip{374}{R2A C D2}{metabat.38}{275}
             \cl{364}{1}\mtip{398}{R2 restored H2O}{maxbin.005}{185}\mtip{394}{R2A C D2}{concoct out.9}{97}\ce
            \ce
           \ce
          \ce
         \ce
        \ce
       \ce
      \ce
     \ce
    \ce
    \cl{137}{1}
     \cl{153}{1}
      \cl{173}{1}
       \cl{203}{1}
        \cl{245}{1}
         \mtip{252}{R1 B D2}{concoct out.73}{67}
         \cl{262}{1}\mtip{268}{R1 B D1}{concoct out.59}{205}\mtip{270}{R1 A D2}{metabat.45}{187}\ce
        \ce
        \cl{221}{1}
         \mtip{251}{R1 A D2}{concoct out.1}{46}
         \cl{258}{0.133}
          \mtip{289}{R1 A D1}{\unskip.metabat.47}{285}
          \cl{287}{1}\mtip{303}{R2 B D2}{metabat.52}{48}\mtip{306}{R1 C D2}{metabat.40}{160}\ce
         \ce
        \ce
       \ce
       \cl{205}{1}
        \cl{247}{1}\mtip{260}{R1 A D1}{\unskip.concoct out.9}{210}\mtip{261}{R1 C D2}{concoct out.85}{241}\ce
        \cl{222}{1}
         \mtip{274}{R1 B D2}{metabat.63}{89}
         \cl{265}{0.999}
          \mtip{309}{R1 A D2}{metabat.27}{159}
          \cl{307}{1}
           \mtip{321}{R1 A D2}{metabat.48}{66}
           \cl{352}{0.939}
            \mtip{357}{R1 A D1}{\unskip.metabat.51}{81}
            \cl{395}{0.997}\mtip{401}{R1 A D2}{metabat.50}{27}\mtip{400}{R1 C D1}{maxbin.047}{189}\ce
           \ce
          \ce
         \ce
        \ce
       \ce
      \ce
      \cl{191}{0.212}
       \cl{216}{1}\mtip{296}{R2 A D1}{concoct out.119}{146}\mtip{313}{R2 A D1}{metabat.61}{181}\ce
       \cl{235}{0.993}
        \mtip{303}{R1 B D2}{concoct out.120}{49}
        \cl{301}{1}\mtip{322}{R1 B D1}{metabat.58}{141}\mtip{322}{R2 A D1}{concoct out.98}{186}\ce
       \ce
      \ce
     \ce
     \cl{153}{1}
      \cl{175}{1}
       \cl{218}{0.994}
        \cl{257}{0.747}
         \mtip{334}{R1 B D1}{metabat.16}{47}
         \cl{275}{1}
          \cl{314}{1}\mtip{343}{R2 B D2}{metabat.43}{206}\mtip{347}{R2A A D1}{metabat.17}{209}\ce
          \cl{310}{1}
           \cl{345}{1}
            \cl{363}{1}\mtip{368}{R2 restored H2O}{concoct out.44}{223}\mtip{367}{R2 restored H2O}{maxbin.002}{145}\ce
            \cl{363}{1}\mtip{370}{R2 A D1}{maxbin.001}{127}\mtip{381}{R2 restored H2O}{maxbin.017}{307}\ce
           \ce
           \cl{353}{0.999}
            \mtip{388}{R2A A D1}{concoct out.24}{292}
            \cl{377}{1}
             \cl{410}{1}\mtip{417}{R2 restored H2O}{concoct out.34}{108}\mtip{417}{R2A B H2O}{concoct out.69}{19}\ce
             \cl{401}{1}
              \mtip{431}{R1 B H2O}{concoct out.19}{303}
              \cl{429}{1}
               \cl{465}{0.99}
                \mtip{469}{R2A B H2O}{maxbin.029}{154}
                \cl{506}{0.937}\mtip{511}{R2A A H2O}{concoct out.62}{37}\ftip{511}{B H2O}{concoct out.14}{236}\ce
               \ce
               \ftip{432}{C H2O}{metabat.49}{260}
              \ce
             \ce
            \ce
           \ce
          \ce
         \ce
        \ce
        \mtip{321}{R2A A H2O}{metabat.49}{137}
       \ce
       \cl{209}{1}
        \mtip{262}{R2A C D2}{concoct out.16}{291}
        \cl{256}{1}\mtip{271}{R2A A D2}{concoct out.37}{194}\mtip{271}{R2A C D2}{concoct out.10}{172}\ce
       \ce
      \ce
      \cl{191}{0.651}
       \cl{262}{1}
        \mtip{291}{R1 B D1}{metabat.41}{266}
        \cl{287}{1}
         \ftip{298}{C D2}{metabat.16}{274}
         \cl{302}{1}\mtip{311}{R2A C D2}{concoct out.21}{252}\mtip{312}{R2A C D2}{concoct out.41}{257}\ce
        \ce
       \ce
       \cl{245}{1}
        \mtip{285}{R2A A D1}{metabat.14}{92}
        \cl{290}{1}\mtip{299}{R2A A D1}{concoct out.46}{58}\mtip{298}{R2A C D2}{concoct out.45}{156}\ce
       \ce
      \ce
     \ce
    \ce
   \ce
  \ce
  \cl{96}{1}
   \cl{136}{1}\mtip{187}{R2 A D1}{concoct out.93}{308}\mtip{193}{R1 B D2}{metabat.78}{69}\ce
   \cl{128}{0.27}\mtip{207}{R1 A D2}{metabat.84}{296}\mtip{212}{R1 C D2}{metabat.58}{207}\ce
  \ce
 \ce
\ce

\coordinate (barleft) at (1,7744);
\coordinate (barright) at (61,7744);
\draw[branch] (barleft) -- (barright);
\draw[branch] ([yshift=4pt]barleft) -- ([yshift=-4pt]barleft);
\draw[branch] ([yshift=4pt]barright) -- ([yshift=-4pt]barright);
\node[anchor=west,inner sep=0pt,text=labelblack,font=\fontsize{13}{13}\selectfont] (barlabel) at (1,7757) {0.49};
\end{tikzpicture}
\end{document}
